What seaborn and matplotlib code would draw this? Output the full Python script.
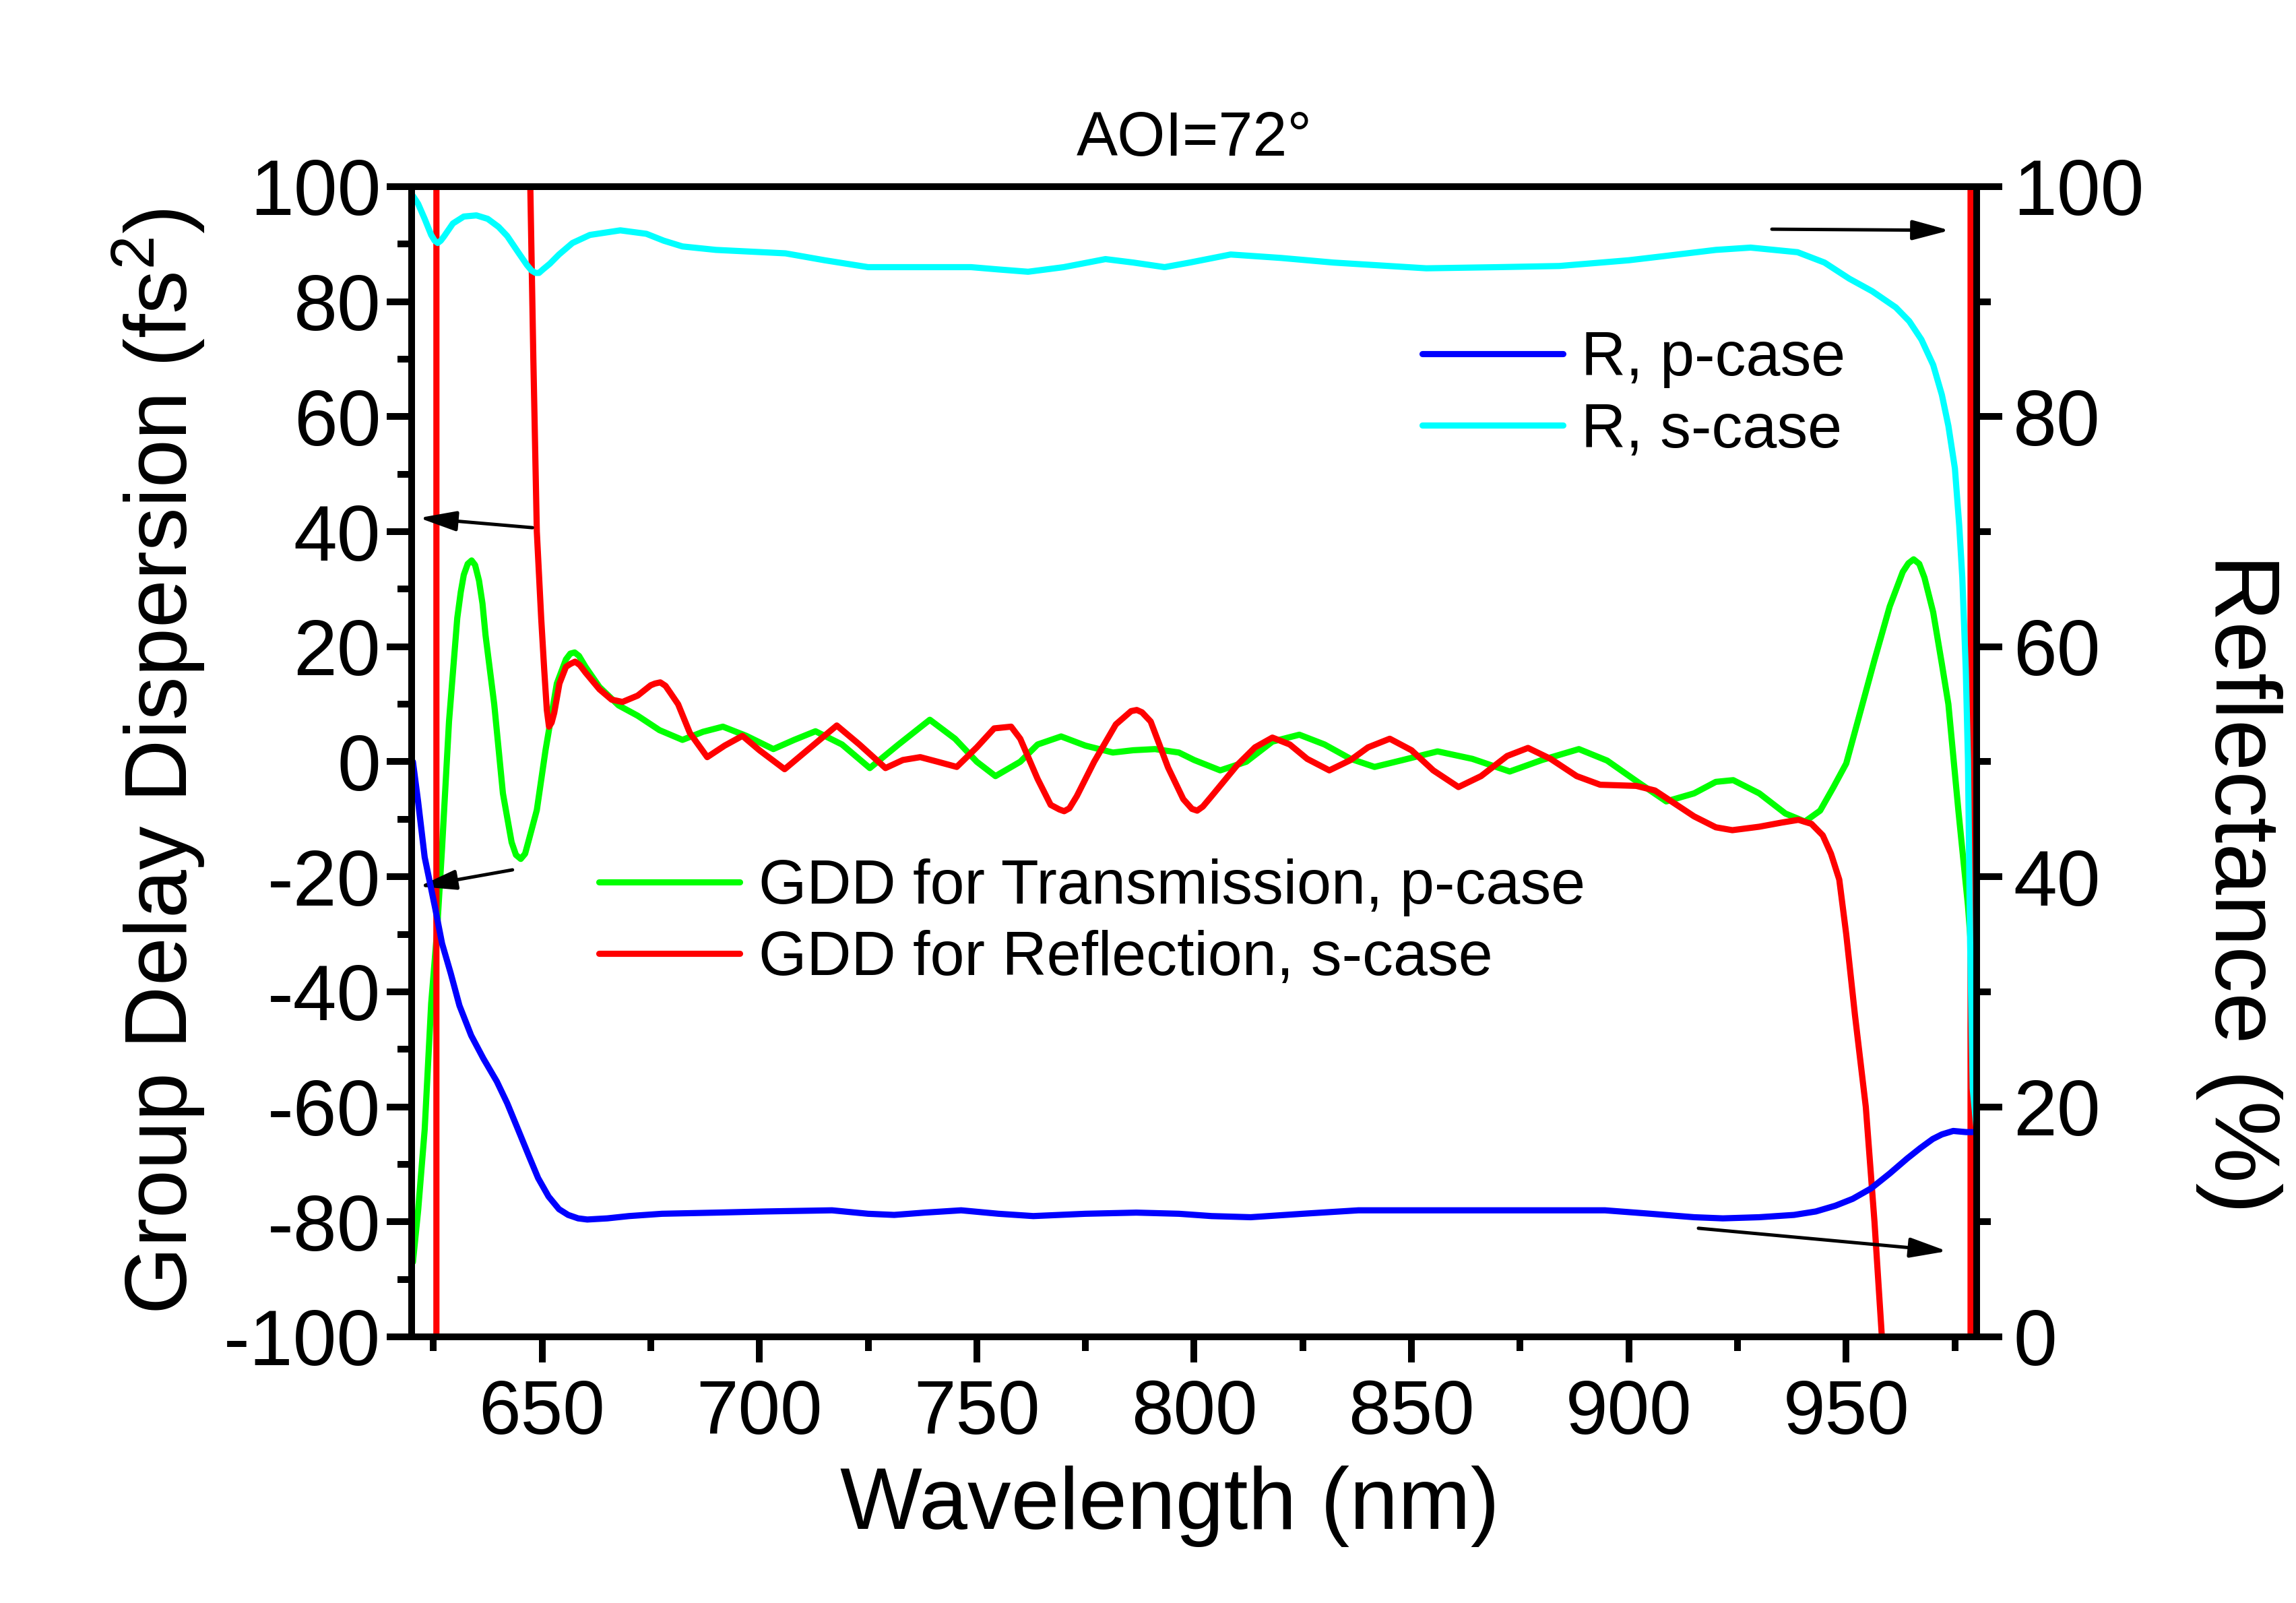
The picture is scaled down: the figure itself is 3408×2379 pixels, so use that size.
import matplotlib
matplotlib.use("Agg")
import matplotlib.pyplot as plt
import seaborn as sns
from matplotlib.ticker import MultipleLocator

# ---------------- data ----------------
# GDD for Transmission, p-case (left axis, fs^2)
wl_gdd_t = [620.3, 621.5, 623.0, 624.5, 625.8, 627.0, 628.6, 630.5, 631.3, 632.0,
            632.9, 633.8, 634.6, 635.5, 636.3, 637.0, 639.0, 641.0, 643.0, 644.0,
            645.1, 646.1, 647.0, 648.8, 650.8, 653.4, 655.5, 656.5, 657.5, 658.5,
            660.0, 663.2, 667.6, 672.0, 677.0, 682.3, 687.0, 691.6, 697.0, 703.2,
            708.0, 712.9, 719.0, 725.4, 732.0, 739.2, 745.0, 750.0, 754.3, 760.0,
            764.0, 769.4, 775.0, 781.3, 786.0, 791.0, 796.5, 800.0, 806.0, 812.0,
            818.0, 824.2, 830.0, 836.0, 841.5, 848.0, 856.0, 864.0, 872.6, 880.0,
            888.5, 895.0, 902.0, 908.6, 915.0, 920.0, 924.0, 930.0, 936.0, 940.5,
            944.0, 947.0, 950.0, 953.0, 956.5, 960.0, 963.0, 964.3, 965.5, 966.8,
            968.0, 970.0, 972.0, 973.5, 975.8, 978.0, 980.0]
gdd_t = [-87.0, -78.0, -64.0, -42.0, -30.0, -15.0, 7.0, 25.0, 29.5, 32.5,
         34.4, 35.0, 34.2, 31.5, 27.5, 22.0, 10.0, -5.5, -14.0, -16.2,
         -16.9, -16.0, -13.5, -8.4, 2.0, 13.6, 17.8, 18.8, 19.0, 18.4,
         16.5, 13.0, 9.8, 8.0, 5.5, 3.8, 5.2, 6.1, 4.5, 2.2,
         3.8, 5.3, 3.0, -1.1, 3.0, 7.3, 4.0, 0.0, -2.5, 0.0,
         3.0, 4.4, 2.8, 1.6, 2.0, 2.2, 1.6, 0.3, -1.5, 0.0,
         3.5, 4.7, 3.0, 0.5, -0.9, 0.3, 1.8, 0.5, -1.7, 0.3,
         2.2, 0.2, -3.5, -6.9, -5.5, -3.5, -3.2, -5.5, -9.0, -10.4,
         -8.5, -4.5, -0.3, 8.0, 17.7, 27.0, 33.0, 34.5, 35.2, 34.4,
         32.0, 26.0, 17.0, 10.0, -8.5, -25.0, -45.0]

# GDD for Reflection, s-case (left axis, fs^2) - diverges off scale near band edges
wl_gdd_r = [620.0, 625.6, 625.8, 635.0, 644.0, 646.5, 647.3, 648.0, 648.8, 649.8,
            650.5, 651.1, 651.6, 652.2, 652.8, 654.0, 655.5, 656.5, 657.6, 658.7,
            660.0, 663.2, 666.0, 668.5, 672.0, 675.0, 676.0, 677.2, 678.4, 679.5,
            681.3, 684.0, 688.0, 692.0, 696.1, 700.0, 705.8, 711.0, 717.8, 723.0,
            729.0, 733.0, 737.0, 741.0, 745.4, 750.0, 754.0, 757.9, 760.0, 764.0,
            767.0, 769.0, 770.1, 771.3, 773.0, 777.0, 782.0, 785.5, 786.8, 788.0,
            790.0, 794.0, 797.5, 799.5, 800.7, 802.0, 804.0, 810.0, 814.0, 818.0,
            822.0, 826.0, 831.1, 836.0, 840.0, 845.0, 850.0, 855.0, 860.8, 866.0,
            872.0, 876.8, 882.0, 888.0, 893.4, 901.7, 906.0, 910.0, 915.0, 920.0,
            923.8, 930.0, 935.0, 939.0, 942.0, 944.6, 946.5, 948.4, 950.0, 952.0,
            954.5, 956.5, 958.2, 960.0, 965.0, 978.5, 978.7, 980.0]
gdd_r = [-800.0, -8000.0, 8000.0, 2000.0, 300.0, 130.0, 100.0, 70.0, 40.0, 25.0,
         16.0, 9.0, 6.1, 6.8, 8.5, 13.6, 16.5, 17.0, 17.4, 16.8,
         15.5, 12.6, 10.8, 10.4, 11.5, 13.3, 13.6, 13.8, 13.2, 12.0,
         10.0, 5.0, 0.8, 2.8, 4.5, 2.0, -1.3, 2.0, 6.3, 3.0,
         -1.1, 0.3, 0.8, 0.0, -0.9, 2.5, 5.8, 6.1, 4.0, -3.0,
         -7.5, -8.3, -8.6, -8.1, -6.0, 0.0, 6.5, 8.8, 9.0, 8.6,
         7.0, -1.0, -6.5, -8.2, -8.5, -7.8, -6.0, -0.5, 2.5, 4.2,
         3.0, 0.5, -1.5, 0.3, 2.5, 4.0, 2.0, -1.5, -4.4, -2.5,
         1.0, 2.4, 0.5, -2.5, -4.0, -4.2, -5.0, -7.0, -9.5, -11.4,
         -11.9, -11.3, -10.6, -10.1, -10.8, -12.8, -16.0, -20.5, -30.0, -44.0,
         -60.0, -80.0, -100.0, -130.0, -400.0, -8000.0, 8000.0, 3000.0]

# R, p-case (right axis, %)
wl_rp = [620.3, 621.5, 623.0, 625.4, 627.0, 629.0, 631.0, 633.7, 636.5, 639.6,
         642.0, 644.4, 647.0, 649.1, 651.5, 653.9, 656.0, 658.3, 660.4, 665.0,
         670.0, 677.6, 690.0, 701.3, 716.7, 725.0, 731.0, 738.0, 746.4, 755.0,
         763.0, 775.0, 786.7, 796.5, 804.0, 813.0, 825.0, 837.8, 867.1, 894.5,
         905.0, 915.0, 921.6, 930.0, 938.0, 943.0, 947.5, 951.5, 955.7, 960.0,
         964.0, 967.0, 969.9, 972.0, 974.6, 977.6, 980.0]
r_p = [50.0, 46.5, 41.7, 37.3, 34.2, 31.6, 28.8, 26.2, 24.2, 22.2,
       20.3, 18.1, 15.7, 13.8, 12.2, 11.1, 10.6, 10.3, 10.2, 10.3,
       10.5, 10.7, 10.8, 10.9, 11.0, 10.7, 10.6, 10.8, 11.0, 10.7,
       10.5, 10.7, 10.8, 10.7, 10.5, 10.4, 10.7, 11.0, 11.0, 11.0,
       10.7, 10.4, 10.3, 10.4, 10.6, 10.9, 11.4, 12.0, 12.9, 14.2,
       15.5, 16.4, 17.2, 17.6, 17.9, 17.8, 17.8]

# R, s-case (right axis, %)
wl_rs = [620.3, 621.5, 623.0, 624.5, 625.3, 626.0, 626.7, 627.5, 629.5, 632.0,
         634.9, 637.5, 640.0, 642.0, 644.5, 646.5, 647.6, 648.5, 649.3, 650.2,
         651.8, 653.9, 657.0, 661.0, 668.0, 674.0, 678.0, 682.3, 690.0, 706.0,
         715.0, 725.0, 737.0, 748.7, 755.0, 761.8, 770.0, 779.6, 786.0, 793.2,
         799.0, 808.4, 820.0, 832.0, 853.4, 870.0, 884.0, 900.0, 909.0, 920.0,
         928.0, 938.8, 945.0, 950.7, 956.0, 961.4, 964.5, 967.3, 970.0, 972.0,
         973.5, 975.0, 976.0, 976.7, 977.5, 978.0, 978.5, 979.1, 980.0]
r_s = [99.2, 98.5, 97.2, 95.8, 95.3, 95.1, 95.3, 95.7, 96.8, 97.4,
       97.5, 97.2, 96.5, 95.7, 94.3, 93.2, 92.7, 92.5, 92.5, 92.8,
       93.3, 94.1, 95.1, 95.8, 96.2, 95.9, 95.3, 94.8, 94.5, 94.2,
       93.6, 93.0, 93.0, 93.0, 92.8, 92.6, 93.0, 93.7, 93.4, 93.0,
       93.4, 94.1, 93.8, 93.4, 92.9, 93.0, 93.1, 93.6, 94.0, 94.5,
       94.7, 94.3, 93.4, 92.0, 90.9, 89.5, 88.3, 86.7, 84.5, 81.9,
       79.2, 75.5, 70.5, 66.0, 58.0, 50.2, 34.3, 21.6, 18.0]

x_major = [650, 700, 750, 800, 850, 900, 950]
gdd_ticks = [-100, -80, -60, -40, -20, 0, 20, 40, 60, 80, 100]
refl_ticks = [0, 20, 40, 60, 80, 100]

# ---------------- style ----------------
sns.set_style("ticks", rc={"axes.edgecolor": "black", "text.color": "black",
                           "axes.labelcolor": "black", "xtick.color": "black",
                           "ytick.color": "black"})
plt.rcParams['font.family'] = ['Liberation Sans', 'DejaVu Sans']
plt.rcParams['axes.unicode_minus'] = False
plt.rcParams['mathtext.fontset'] = 'custom'
plt.rcParams['mathtext.rm'] = 'Liberation Sans'
plt.rcParams['mathtext.it'] = 'Liberation Sans:italic'

fig = plt.figure(figsize=(11.36, 7.93), dpi=300)
ax = fig.add_axes([0.17928, 0.16604, 0.68163, 0.71753])
ax2 = ax.twinx()

lw = 2.2
sns.lineplot(x=wl_gdd_t, y=gdd_t, ax=ax, color='#00FF00', linewidth=lw,
             sort=False, estimator=None, legend=False)
l_gt = ax.lines[-1]
sns.lineplot(x=wl_gdd_r, y=gdd_r, ax=ax, color='#FF0000', linewidth=lw,
             sort=False, estimator=None, legend=False)
l_gr = ax.lines[-1]
sns.lineplot(x=wl_rp, y=r_p, ax=ax2, color='#0000FF', linewidth=lw,
             sort=False, estimator=None, legend=False)
l_rp = ax2.lines[-1]
sns.lineplot(x=wl_rs, y=r_s, ax=ax2, color='#00FFFF', linewidth=lw,
             sort=False, estimator=None, legend=False)
l_rs = ax2.lines[-1]

ax.set_xlim(620, 980)
ax.set_ylim(-100, 100)
ax2.set_ylim(0, 100)

ax.set_xticks(x_major)
ax.xaxis.set_minor_locator(MultipleLocator(25))
ax.set_yticks(gdd_ticks)
ax.yaxis.set_minor_locator(MultipleLocator(10))
ax2.set_yticks(refl_ticks)
ax2.yaxis.set_minor_locator(MultipleLocator(10))

for a in (ax, ax2):
    for s in a.spines.values():
        s.set_linewidth(2.4)
        s.set_color('black')
        s.set_visible(True)

ax.tick_params(axis='both', which='major', direction='out', length=9, width=2.4,
               labelsize=28, top=False, right=False)
ax.tick_params(axis='both', which='minor', direction='out', length=5, width=2.4,
               top=False, right=False)
ax.tick_params(axis='x', which='major', pad=6, labelsize=27)
ax.tick_params(axis='y', which='major', pad=2)
ax2.tick_params(axis='y', which='major', direction='out', length=9, width=2.4,
                labelsize=28, left=False, right=True, pad=4)
ax2.tick_params(axis='y', which='minor', direction='out', length=5, width=2.4,
                left=False, right=True)

ax.set_xlabel('Wavelength (nm)', fontsize=31)
ax.xaxis.set_label_coords(0.4846, -0.112)
ax.set_ylabel('Group Delay Dispersion (fs$^2$)', fontsize=31, labelpad=6)
ax2.set_ylabel('Reflectance (%)', fontsize=33, rotation=270, va='bottom')
ax2.yaxis.set_label_coords(1.140, 0.394)
ax.set_title('AOI=72°', fontsize=22, pad=11)

# legends
leg2 = ax.legend([l_gt, l_gr], ['GDD for Transmission, p-case', 'GDD for Reflection, s-case'],
                 loc='upper left', bbox_to_anchor=(0.1197, 0.416), frameon=False,
                 fontsize=22, handlelength=2.28, handletextpad=0.3, borderpad=0,
                 borderaxespad=0, labelspacing=0.22)
leg1 = ax2.legend([l_rp, l_rs], ['R, p-case', 'R, s-case'],
                  loc='upper left', bbox_to_anchor=(0.6457, 0.875), frameon=False,
                  fontsize=22, handlelength=2.28, handletextpad=0.3, borderpad=0,
                  borderaxespad=0, labelspacing=0.22)

# arrows pointing to the relevant axis
astyle = dict(arrowstyle='-|>,head_length=0.56,head_width=0.15', mutation_scale=20,
              color='black', lw=1.2, shrinkA=0, shrinkB=0)
ax.annotate('', xy=(621.7, 42.4), xytext=(647.8, 40.7), arrowprops=astyle)
ax.annotate('', xy=(621.7, -21.7), xytext=(643.2, -18.8), arrowprops=astyle)
ax2.annotate('', xy=(973.8, 96.2), xytext=(932.9, 96.3), arrowprops=astyle)
ax2.annotate('', xy=(973.2, 7.45), xytext=(916.0, 9.44), arrowprops=astyle)

fig.savefig('out.png', dpi=300)
